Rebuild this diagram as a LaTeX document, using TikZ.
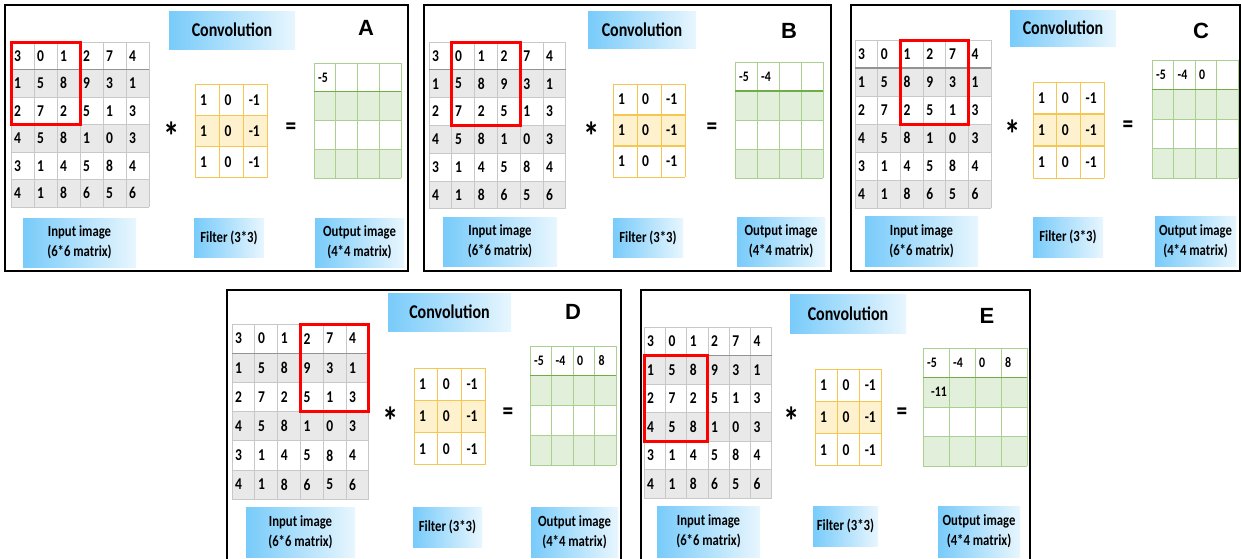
\documentclass[tikz,border=0pt]{standalone}
\usepackage{fontspec}
\setmainfont{Carlito}[FakeStretch=0.82]
\newfontfamily\letterfont{Liberation Sans}
\usepackage{xcolor}
\usetikzlibrary{positioning}

\definecolor{skydark}{RGB}{120,203,250}
\definecolor{skylight}{RGB}{232,246,254}
\definecolor{cellgray}{RGB}{233,233,233}
\definecolor{linegray}{RGB}{200,200,200}
\definecolor{filterline}{RGB}{247,198,80}
\definecolor{filterfill}{RGB}{253,241,206}
\definecolor{outline}{RGB}{169,208,142}
\definecolor{outfill}{RGB}{226,239,218}
\definecolor{outdark}{RGB}{112,173,71}

% input image: id, left, top, cell width, cell height, window column, window row
\newcommand{\inmat}[7]{%
  \foreach \ri in {1,3,5}
    \fill[cellgray] (#2,#3+\ri*#5) rectangle ++(6*#4,#5);
  \foreach \ci in {0,...,6}
    \draw[gridline] (#2+\ci*#4,#3) -- ++(0,6*#5);
  \foreach \ri in {0,...,6}
    \draw[gridline] (#2,#3+\ri*#5) -- ++(6*#4,0);
  \draw[gridline, draw=gray!85, line width=1.3pt] (#2,#3+#5) -- ++(6*#4,0);
  \foreach \row [count=\ri] in {{3,0,1,2,7,4},{1,5,8,9,3,1},{2,7,2,5,1,3},{4,5,8,1,0,3},{3,1,4,5,8,4},{4,1,8,6,5,6}}
    \foreach \v [count=\ci] in \row
      \node[num] (#1-in-\ri-\ci) at (#2+\ci*#4-#4+3,#3+\ri*#5-0.5*#5) {\v};
  \draw[window] (#2+#6*#4-#4,#3+#7*#5-#5) rectangle ++(3*#4,3*#5);
}

% filter: id, left, top, cell width, cell height
\newcommand{\filt}[5]{%
  \fill[filterfill] (#2,#3+#5) rectangle ++(3*#4,#5);
  \foreach \ci in {0,...,3}
    \draw[filterline, line width=0.9pt] (#2+\ci*#4,#3) -- ++(0,3*#5);
  \foreach \ri in {0,3}
    \draw[filterline, line width=0.9pt] (#2,#3+\ri*#5) -- ++(3*#4,0);
  \foreach \ri in {1,2}
    \draw[filterline, line width=1.6pt] (#2,#3+\ri*#5) -- ++(3*#4,0);
  \foreach \ri in {1,2,3}
    \foreach \v [count=\ci] in {1,0,-1}
      \node[num] (#1-f-\ri-\ci) at (#2+\ci*#4-#4+5,#3+\ri*#5-0.5*#5) {\v};
}

% output image: id, left, top, cell width, cell height, first row values
\newcommand{\outmat}[6]{%
  \fill[outfill] (#2,#3+#5) rectangle ++(4*#4,#5);
  \fill[outfill] (#2,#3+3*#5) rectangle ++(4*#4,#5);
  \foreach \ci in {0,...,4}
    \draw[outline, line width=0.9pt] (#2+\ci*#4,#3) -- ++(0,4*#5);
  \foreach \ri in {0,2,3,4}
    \draw[outline, line width=0.9pt] (#2,#3+\ri*#5) -- ++(4*#4,0);
  \draw[outdark, line width=1.4pt] (#2,#3+#5) -- ++(4*#4,0);
  \foreach \v [count=\ci] in {#6}
    \node[outnum] (#1-o-1-\ci) at (#2+\ci*#4-#4+4,#3+0.5*#5) {\v};
}

% blue label box: name, style, x1, y1, x2, y2, text
\newcommand{\tagbox}[7]{%
  \shade[left color=skydark, right color=skylight] (#3,#4) rectangle (#5,#6);
  \node[#2] (#1) at ({(#3+#5)/2},{(#4+#6)/2}) {#7};
}

\begin{document}
\begin{tikzpicture}[
    x=1pt, y=-1pt,
    num/.style={font=\bfseries\fontsize{16.5}{16.5}\selectfont, anchor=west, inner sep=0pt},
    outnum/.style={font=\bfseries\fontsize{14.5}{14.5}\selectfont, anchor=west, inner sep=0pt},
    tag/.style={font=\bfseries\fontsize{15.5}{20}\selectfont, align=center, inner sep=0pt},
    title/.style={font=\bfseries\fontsize{19.5}{19.5}\selectfont, inner sep=0pt},
    letter/.style={font=\letterfont\bfseries\fontsize{22}{22}\selectfont, inner sep=0pt},
    op/.style={font=\bfseries\fontsize{26}{26}\selectfont, inner sep=0pt},
    star/.style={font=\bfseries\fontsize{40}{40}\selectfont, inner sep=0pt},
    gridline/.style={draw=linegray, line width=0.8pt},
    window/.style={draw=red, line width=3pt},
    panel/.style={draw=black, line width=1.8pt}
]
    \clip (0,0) rectangle (1242,558);
    \fill[white] (0,0) rectangle (1242,558);

    % Panel A
    \draw[panel] (5,5) rectangle (408,271);
    \tagbox{A-title}{title}{169}{11}{295}{49}{Convolution}
    \node[letter] (A-tag) at (366,28) {A};
    \inmat{A}{11}{42}{23}{27.5}{1}{1}
    \filt{A}{195}{84}{24.3}{31.3}
    \outmat{A}{314}{63}{21.75}{28.75}{-5}
    \node[star] (A-ast) at (172,136) {*};
    \node[op] (A-eq) at (291,129) {=};
    \tagbox{A-in}{tag}{23}{218}{136}{267}{Input image\\(6*6 matrix)}
    \tagbox{A-fl}{tag}{194}{218}{264}{257}{Filter (3*3)}
    \tagbox{A-out}{tag}{315}{218}{404}{267}{Output image\\(4*4 matrix)}

    % Panel B
    \draw[panel] (424,5) rectangle (831,271);
    \tagbox{B-title}{title}{588}{11}{696}{48}{Convolution}
    \node[letter] (B-tag) at (789,31) {B};
    \inmat{B}{429}{42}{22.8}{27.8}{2}{1}
    \filt{B}{613}{84}{24}{31}
    \outmat{B}{735}{62}{22}{29}{-5,-4}
    \node[star] (B-ast) at (592,136) {*};
    \node[op] (B-eq) at (712,129) {=};
    \tagbox{B-in}{tag}{443}{217}{557}{266}{Input image\\(6*6 matrix)}
    \tagbox{B-fl}{tag}{613}{218}{683}{257}{Filter (3*3)}
    \tagbox{B-out}{tag}{737}{217}{825}{266}{Output image\\(4*4 matrix)}

    % Panel C
    \draw[panel] (851,5) rectangle (1240,271);
    \tagbox{C-title}{title}{1010}{10}{1116}{46}{Convolution}
    \node[letter] (C-tag) at (1201,31) {C};
    \inmat{C}{855}{40}{22.7}{28}{3}{1}
    \filt{C}{1033}{82}{23.7}{32}
    \outmat{C}{1152}{60}{21.5}{29.5}{-5,-4,0}
    \node[star] (C-ast) at (1013,134) {*};
    \node[op] (C-eq) at (1128,127) {=};
    \tagbox{C-in}{tag}{865}{216}{978}{266}{Input image\\(6*6 matrix)}
    \tagbox{C-fl}{tag}{1033}{217}{1103}{257}{Filter (3*3)}
    \tagbox{C-out}{tag}{1155}{216}{1236}{266}{Output image\\(4*4 matrix)}

    % Panel D
    \draw[panel] (227,290) rectangle (621,570);
    \tagbox{D-title}{title}{388}{293}{511}{331}{Convolution}
    \node[letter] (D-tag) at (573,312) {D};
    \inmat{D}{232}{324}{22.8}{29.2}{4}{1}
    \filt{D}{414}{368}{23.7}{32.3}
    \outmat{D}{530}{346}{21.5}{29.75}{-5,-4,0,8}
    \node[star] (D-ast) at (391,421) {*};
    \node[op] (D-eq) at (508,414) {=};
    \tagbox{D-in}{tag}{246}{507}{355}{557}{Input image\\(6*6 matrix)}
    \tagbox{D-fl}{tag}{413}{507}{482}{547}{Filter (3*3)}
    \tagbox{D-out}{tag}{531}{507}{618}{557}{Output image\\(4*4 matrix)}

    % Panel E
    \draw[panel] (641,290) rectangle (1030,570);
    \tagbox{E-title}{title}{790}{294}{906}{333}{Convolution}
    \node[letter] (E-tag) at (987,316) {E};
    \inmat{E}{644}{327}{21.3}{28.5}{1}{2}
    \filt{E}{815}{369}{22.3}{32.3}
    \outmat{E}{923}{348}{26}{29.5}{-5,-4,0,8}
    \node[outnum, right=4pt of E-o-1-1.west, anchor=west, yshift=-29.5pt] (E-o-2-1) {-11};
    \node[star] (E-ast) at (792,421) {*};
    \node[op] (E-eq) at (902,414) {=};
    \tagbox{E-in}{tag}{657}{506}{760}{557}{Input image\\(6*6 matrix)}
    \tagbox{E-fl}{tag}{813}{506}{878}{546}{Filter (3*3)}
    \tagbox{E-out}{tag}{938}{506}{1020}{557}{Output image\\(4*4 matrix)}
\end{tikzpicture}
\end{document}
